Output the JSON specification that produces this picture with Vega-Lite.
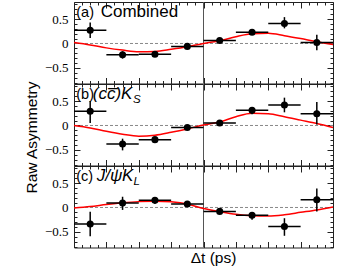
{
  "$schema": "https://vega.github.io/schema/vega-lite/v6.json",
  "padding": {"left": 23, "top": 1, "right": 5, "bottom": 5},
  "background": "white",
  "spacing": 0,
  "bounds": "flush",
  "config": {
    "view": {"stroke": "#222", "strokeWidth": 1},
    "axis": {"domain": false, "grid": false, "tickColor": "#222", "tickWidth": 1, "labelFont": "Liberation Serif", "labelFontSize": 13, "labelColor": "black", "titleFont": "Liberation Sans", "titleFontSize": 15.5, "titleFontWeight": "normal", "titleColor": "black"},
    "text": {"font": "Liberation Sans", "fontSize": 16, "color": "black"}
  },
  "datasets": {
    "one": [{}],
    "pts": [
      {"p": "a", "x": -3.5, "y": 0.27, "xlo": -4, "xhi": -3, "ylo": 0.11, "yhi": 0.43},
      {"p": "a", "x": -2.5, "y": -0.23, "xlo": -3, "xhi": -2, "ylo": -0.31, "yhi": -0.16},
      {"p": "a", "x": -1.5, "y": -0.22, "xlo": -2, "xhi": -1, "ylo": -0.26, "yhi": -0.18},
      {"p": "a", "x": -0.5, "y": -0.06, "xlo": -1, "xhi": 0, "ylo": -0.09, "yhi": -0.03},
      {"p": "a", "x": 0.5, "y": 0.06, "xlo": 0, "xhi": 1, "ylo": 0.03, "yhi": 0.09},
      {"p": "a", "x": 1.5, "y": 0.23, "xlo": 1, "xhi": 2, "ylo": 0.2, "yhi": 0.27},
      {"p": "a", "x": 2.5, "y": 0.41, "xlo": 2, "xhi": 3, "ylo": 0.31, "yhi": 0.54},
      {"p": "a", "x": 3.5, "y": 0.02, "xlo": 3, "xhi": 4, "ylo": -0.14, "yhi": 0.18},
      {"p": "b", "x": -3.5, "y": 0.29, "xlo": -4, "xhi": -3, "ylo": 0.05, "yhi": 0.5},
      {"p": "b", "x": -2.5, "y": -0.38, "xlo": -3, "xhi": -2, "ylo": -0.51, "yhi": -0.27},
      {"p": "b", "x": -1.5, "y": -0.29, "xlo": -2, "xhi": -1, "ylo": -0.35, "yhi": -0.24},
      {"p": "b", "x": -0.5, "y": -0.04, "xlo": -1, "xhi": 0, "ylo": -0.07, "yhi": -0.01},
      {"p": "b", "x": 0.5, "y": 0.05, "xlo": 0, "xhi": 1, "ylo": 0.02, "yhi": 0.08},
      {"p": "b", "x": 1.5, "y": 0.31, "xlo": 1, "xhi": 2, "ylo": 0.23, "yhi": 0.38},
      {"p": "b", "x": 2.5, "y": 0.42, "xlo": 2, "xhi": 3, "ylo": 0.27, "yhi": 0.57},
      {"p": "b", "x": 3.5, "y": 0.24, "xlo": 3, "xhi": 4, "ylo": 0.02, "yhi": 0.48},
      {"p": "c", "x": -3.5, "y": -0.34, "xlo": -4, "xhi": -3, "ylo": -0.59, "yhi": -0.09},
      {"p": "c", "x": -2.5, "y": 0.09, "xlo": -3, "xhi": -2, "ylo": -0.05, "yhi": 0.22},
      {"p": "c", "x": -1.5, "y": 0.15, "xlo": -2, "xhi": -1, "ylo": 0.07, "yhi": 0.21},
      {"p": "c", "x": -0.5, "y": 0.07, "xlo": -1, "xhi": 0, "ylo": 0.04, "yhi": 0.1},
      {"p": "c", "x": 0.5, "y": -0.08, "xlo": 0, "xhi": 1, "ylo": -0.11, "yhi": -0.05},
      {"p": "c", "x": 1.5, "y": -0.16, "xlo": 1, "xhi": 2, "ylo": -0.25, "yhi": -0.1},
      {"p": "c", "x": 2.5, "y": -0.39, "xlo": 2, "xhi": 3, "ylo": -0.58, "yhi": -0.22},
      {"p": "c", "x": 3.5, "y": 0.16, "xlo": 3, "xhi": 4, "ylo": -0.08, "yhi": 0.39}
    ],
    "curve": [
      {"p": "a", "x": -4, "y": 0.02}, {"p": "a", "x": -3.5, "y": -0.03}, {"p": "a", "x": -3, "y": -0.09}, {"p": "a", "x": -2.5, "y": -0.136}, {"p": "a", "x": -2, "y": -0.17}, {"p": "a", "x": -1.5, "y": -0.163}, {"p": "a", "x": -1, "y": -0.12}, {"p": "a", "x": -0.5, "y": -0.068}, {"p": "a", "x": 0, "y": 0.0}, {"p": "a", "x": 0.5, "y": 0.055}, {"p": "a", "x": 1, "y": 0.14}, {"p": "a", "x": 1.5, "y": 0.2}, {"p": "a", "x": 2, "y": 0.21}, {"p": "a", "x": 2.5, "y": 0.16}, {"p": "a", "x": 3, "y": 0.1}, {"p": "a", "x": 3.5, "y": 0.035}, {"p": "a", "x": 4, "y": -0.02},
      {"p": "b", "x": -4, "y": 0.0}, {"p": "b", "x": -3.5, "y": -0.05}, {"p": "b", "x": -3, "y": -0.12}, {"p": "b", "x": -2.5, "y": -0.18}, {"p": "b", "x": -2, "y": -0.22}, {"p": "b", "x": -1.5, "y": -0.2}, {"p": "b", "x": -1, "y": -0.14}, {"p": "b", "x": -0.5, "y": -0.07}, {"p": "b", "x": 0, "y": 0.01}, {"p": "b", "x": 0.5, "y": 0.07}, {"p": "b", "x": 1, "y": 0.18}, {"p": "b", "x": 1.5, "y": 0.25}, {"p": "b", "x": 2, "y": 0.24}, {"p": "b", "x": 2.5, "y": 0.18}, {"p": "b", "x": 3, "y": 0.11}, {"p": "b", "x": 3.5, "y": 0.04}, {"p": "b", "x": 4, "y": -0.04},
      {"p": "c", "x": -4, "y": -0.01}, {"p": "c", "x": -3.5, "y": 0.02}, {"p": "c", "x": -3, "y": 0.06}, {"p": "c", "x": -2.5, "y": 0.095}, {"p": "c", "x": -2, "y": 0.12}, {"p": "c", "x": -1.5, "y": 0.13}, {"p": "c", "x": -1, "y": 0.115}, {"p": "c", "x": -0.5, "y": 0.07}, {"p": "c", "x": 0, "y": -0.02}, {"p": "c", "x": 0.5, "y": -0.085}, {"p": "c", "x": 1, "y": -0.14}, {"p": "c", "x": 1.5, "y": -0.17}, {"p": "c", "x": 2, "y": -0.177}, {"p": "c", "x": 2.5, "y": -0.15}, {"p": "c", "x": 3, "y": -0.1}, {"p": "c", "x": 3.5, "y": -0.05}, {"p": "c", "x": 4, "y": 0.01}
    ]
  },
  "vconcat": [
    {
      "width": 259, "height": 81.5,
      "resolve": {"axis": {"x": "independent", "y": "independent"}},
      "layer": [
        {"data": {"name": "one"}, "mark": {"type": "rule", "color": "#888", "strokeDash": [3, 2], "strokeWidth": 1},
         "encoding": {"y": {"datum": 0, "type": "quantitative", "scale": {"domain": [-0.82, 0.85], "nice": false, "zero": false}, "axis": {"orient": "right", "values": [-0.8,-0.7,-0.6,-0.4,-0.3,-0.2,-0.1,0.1,0.2,0.3,0.4,0.6,0.7,0.8], "labels": false, "tickSize": -3, "title": null}}}},
        {"data": {"name": "one"}, "mark": {"type": "rule", "color": "#555", "strokeWidth": 1},
         "encoding": {"x": {"datum": 0, "type": "quantitative", "scale": {"domain": [-4, 4], "nice": false, "zero": false}, "axis": {"orient": "top", "values": [-3.75,-3.5,-3.25,-2.75,-2.5,-2.25,-1.75,-1.5,-1.25,-0.75,-0.5,-0.25,0.25,0.5,0.75,1.25,1.5,1.75,2.25,2.5,2.75,3.25,3.5,3.75], "labels": false, "tickSize": -3, "title": null}}}},
        {"data": {"name": "curve"}, "transform": [{"filter": "datum.p == 'a'"}],
         "mark": {"type": "line", "color": "#ff0000", "strokeWidth": 1.5, "interpolate": "monotone"},
         "encoding": {"x": {"field": "x", "type": "quantitative", "scale": {"domain": [-4, 4], "nice": false, "zero": false}, "axis": {"orient": "bottom", "values": [-3.75,-3.5,-3.25,-2.75,-2.5,-2.25,-1.75,-1.5,-1.25,-0.75,-0.5,-0.25,0.25,0.5,0.75,1.25,1.5,1.75,2.25,2.5,2.75,3.25,3.5,3.75], "labels": false, "tickSize": -3, "title": null}},
                      "y": {"field": "y", "type": "quantitative", "scale": {"domain": [-0.82, 0.85], "nice": false, "zero": false}, "axis": {"orient": "left", "values": [-0.8,-0.7,-0.6,-0.4,-0.3,-0.2,-0.1,0.1,0.2,0.3,0.4,0.6,0.7,0.8], "labels": false, "tickSize": -3, "title": null}}}},
        {"data": {"name": "pts"}, "transform": [{"filter": "datum.p == 'a'"}],
         "mark": {"type": "rule", "color": "black", "strokeWidth": 1.5},
         "encoding": {"x": {"field": "xlo", "type": "quantitative", "scale": {"domain": [-4, 4], "nice": false, "zero": false}, "axis": {"orient": "bottom", "values": [-4,-3,-2,-1,0,1,2,3,4], "labels": false, "tickSize": -6, "title": null}},
                      "x2": {"field": "xhi"},
                      "y": {"field": "y", "type": "quantitative", "scale": {"domain": [-0.82, 0.85], "nice": false, "zero": false}, "axis": {"orient": "left", "values": [-0.5, 0, 0.5], "tickSize": -6, "labelPadding": 12, "labelExpr": "datum.value == 0 ? '0' : format(datum.value, '.1f')", "title": null}}}},
        {"data": {"name": "pts"}, "transform": [{"filter": "datum.p == 'a'"}],
         "mark": {"type": "rule", "color": "black", "strokeWidth": 1.5},
         "encoding": {"x": {"field": "x", "type": "quantitative", "scale": {"domain": [-4, 4], "nice": false, "zero": false}, "axis": {"orient": "top", "values": [-4,-3,-2,-1,0,1,2,3,4], "labels": false, "tickSize": -6, "title": null}},
                      "y": {"field": "ylo", "type": "quantitative", "scale": {"domain": [-0.82, 0.85], "nice": false, "zero": false}, "axis": {"orient": "right", "values": [-0.5, 0, 0.5], "labels": false, "tickSize": -6, "title": null}},
                      "y2": {"field": "yhi"}}},
        {"data": {"name": "pts"}, "transform": [{"filter": "datum.p == 'a'"}],
         "mark": {"type": "circle", "color": "black", "opacity": 1, "size": 50},
         "encoding": {"x": {"field": "x", "type": "quantitative", "scale": {"domain": [-4, 4], "nice": false, "zero": false}, "axis": null},
                      "y": {"field": "y", "type": "quantitative", "scale": {"domain": [-0.82, 0.85], "nice": false, "zero": false}, "axis": null}}},
        {"data": {"name": "one"}, "mark": {"type": "text", "align": "left", "baseline": "alphabetic", "fontSize": 14.5, "text": "(a)"},
         "encoding": {"x": {"datum": -3.93, "type": "quantitative", "axis": null}, "y": {"datum": 0.55, "type": "quantitative", "axis": null}}},
        {"data": {"name": "one"}, "mark": {"type": "text", "align": "left", "baseline": "alphabetic", "fontSize": 17, "text": "Combined"},
         "encoding": {"x": {"datum": -3.175, "type": "quantitative", "axis": null}, "y": {"datum": 0.55, "type": "quantitative", "axis": null}}}
      ]
    },
    {
      "width": 259, "height": 81.5,
      "resolve": {"axis": {"x": "independent", "y": "independent"}},
      "layer": [
        {"data": {"name": "one"}, "mark": {"type": "rule", "color": "#888", "strokeDash": [3, 2], "strokeWidth": 1},
         "encoding": {"y": {"datum": 0, "type": "quantitative", "scale": {"domain": [-0.82, 0.85], "nice": false, "zero": false}, "axis": {"orient": "right", "values": [-0.8,-0.7,-0.6,-0.4,-0.3,-0.2,-0.1,0.1,0.2,0.3,0.4,0.6,0.7,0.8], "labels": false, "tickSize": -3, "title": null}}}},
        {"data": {"name": "one"}, "mark": {"type": "rule", "color": "#555", "strokeWidth": 1},
         "encoding": {"x": {"datum": 0, "type": "quantitative", "scale": {"domain": [-4, 4], "nice": false, "zero": false}, "axis": {"orient": "top", "values": [-3.75,-3.5,-3.25,-2.75,-2.5,-2.25,-1.75,-1.5,-1.25,-0.75,-0.5,-0.25,0.25,0.5,0.75,1.25,1.5,1.75,2.25,2.5,2.75,3.25,3.5,3.75], "labels": false, "tickSize": -3, "title": null}}}},
        {"data": {"name": "curve"}, "transform": [{"filter": "datum.p == 'b'"}],
         "mark": {"type": "line", "color": "#ff0000", "strokeWidth": 1.5, "interpolate": "monotone"},
         "encoding": {"x": {"field": "x", "type": "quantitative", "scale": {"domain": [-4, 4], "nice": false, "zero": false}, "axis": {"orient": "bottom", "values": [-3.75,-3.5,-3.25,-2.75,-2.5,-2.25,-1.75,-1.5,-1.25,-0.75,-0.5,-0.25,0.25,0.5,0.75,1.25,1.5,1.75,2.25,2.5,2.75,3.25,3.5,3.75], "labels": false, "tickSize": -3, "title": null}},
                      "y": {"field": "y", "type": "quantitative", "scale": {"domain": [-0.82, 0.85], "nice": false, "zero": false}, "axis": {"orient": "left", "values": [-0.8,-0.7,-0.6,-0.4,-0.3,-0.2,-0.1,0.1,0.2,0.3,0.4,0.6,0.7,0.8], "labels": false, "tickSize": -3, "title": null}}}},
        {"data": {"name": "pts"}, "transform": [{"filter": "datum.p == 'b'"}],
         "mark": {"type": "rule", "color": "black", "strokeWidth": 1.5},
         "encoding": {"x": {"field": "xlo", "type": "quantitative", "scale": {"domain": [-4, 4], "nice": false, "zero": false}, "axis": {"orient": "bottom", "values": [-4,-3,-2,-1,0,1,2,3,4], "labels": false, "tickSize": -6, "title": null}},
                      "x2": {"field": "xhi"},
                      "y": {"field": "y", "type": "quantitative", "scale": {"domain": [-0.82, 0.85], "nice": false, "zero": false}, "axis": {"orient": "left", "values": [-0.5, 0, 0.5], "tickSize": -6, "labelPadding": 12, "labelExpr": "datum.value == 0 ? '0' : format(datum.value, '.1f')", "title": "Raw Asymmetry", "titlePadding": 5, "titleY": 53}}}},
        {"data": {"name": "pts"}, "transform": [{"filter": "datum.p == 'b'"}],
         "mark": {"type": "rule", "color": "black", "strokeWidth": 1.5},
         "encoding": {"x": {"field": "x", "type": "quantitative", "scale": {"domain": [-4, 4], "nice": false, "zero": false}, "axis": {"orient": "top", "values": [-4,-3,-2,-1,0,1,2,3,4], "labels": false, "tickSize": -6, "title": null}},
                      "y": {"field": "ylo", "type": "quantitative", "scale": {"domain": [-0.82, 0.85], "nice": false, "zero": false}, "axis": {"orient": "right", "values": [-0.5, 0, 0.5], "labels": false, "tickSize": -6, "title": null}},
                      "y2": {"field": "yhi"}}},
        {"data": {"name": "pts"}, "transform": [{"filter": "datum.p == 'b'"}],
         "mark": {"type": "circle", "color": "black", "opacity": 1, "size": 50},
         "encoding": {"x": {"field": "x", "type": "quantitative", "scale": {"domain": [-4, 4], "nice": false, "zero": false}, "axis": null},
                      "y": {"field": "y", "type": "quantitative", "scale": {"domain": [-0.82, 0.85], "nice": false, "zero": false}, "axis": null}}},
        {"data": {"name": "one"}, "mark": {"type": "text", "align": "left", "baseline": "alphabetic", "fontSize": 14.5, "text": "(b)"},
         "encoding": {"x": {"datum": -3.93, "type": "quantitative", "axis": null}, "y": {"datum": 0.55, "type": "quantitative", "axis": null}}},
        {"data": {"name": "one"}, "mark": {"type": "text", "align": "left", "baseline": "alphabetic", "fontStyle": "italic", "fontSize": 17, "text": "(cc\u0305)"},
         "encoding": {"x": {"datum": -3.42, "type": "quantitative", "axis": null}, "y": {"datum": 0.55, "type": "quantitative", "axis": null}}},
        {"data": {"name": "one"}, "mark": {"type": "text", "align": "left", "baseline": "alphabetic", "fontStyle": "italic", "fontSize": 17, "text": "K"},
         "encoding": {"x": {"datum": -2.55, "type": "quantitative", "axis": null}, "y": {"datum": 0.55, "type": "quantitative", "axis": null}}},
        {"data": {"name": "one"}, "mark": {"type": "text", "align": "left", "baseline": "alphabetic", "fontStyle": "italic", "fontSize": 11.5, "text": "S"},
         "encoding": {"x": {"datum": -2.18, "type": "quantitative", "axis": null}, "y": {"datum": 0.46, "type": "quantitative", "axis": null}}}
      ]
    },
    {
      "width": 259, "height": 81.5,
      "resolve": {"axis": {"x": "independent", "y": "independent"}},
      "layer": [
        {"data": {"name": "one"}, "mark": {"type": "rule", "color": "#888", "strokeDash": [3, 2], "strokeWidth": 1},
         "encoding": {"y": {"datum": 0, "type": "quantitative", "scale": {"domain": [-0.82, 0.85], "nice": false, "zero": false}, "axis": {"orient": "right", "values": [-0.8,-0.7,-0.6,-0.4,-0.3,-0.2,-0.1,0.1,0.2,0.3,0.4,0.6,0.7,0.8], "labels": false, "tickSize": -3, "title": null}}}},
        {"data": {"name": "one"}, "mark": {"type": "rule", "color": "#555", "strokeWidth": 1},
         "encoding": {"x": {"datum": 0, "type": "quantitative", "scale": {"domain": [-4, 4], "nice": false, "zero": false}, "axis": {"orient": "top", "values": [-3.75,-3.5,-3.25,-2.75,-2.5,-2.25,-1.75,-1.5,-1.25,-0.75,-0.5,-0.25,0.25,0.5,0.75,1.25,1.5,1.75,2.25,2.5,2.75,3.25,3.5,3.75], "labels": false, "tickSize": -3, "title": null}}}},
        {"data": {"name": "curve"}, "transform": [{"filter": "datum.p == 'c'"}],
         "mark": {"type": "line", "color": "#ff0000", "strokeWidth": 1.5, "interpolate": "monotone"},
         "encoding": {"x": {"field": "x", "type": "quantitative", "scale": {"domain": [-4, 4], "nice": false, "zero": false}, "axis": {"orient": "bottom", "values": [-3.75,-3.5,-3.25,-2.75,-2.5,-2.25,-1.75,-1.5,-1.25,-0.75,-0.5,-0.25,0.25,0.5,0.75,1.25,1.5,1.75,2.25,2.5,2.75,3.25,3.5,3.75], "labels": false, "tickSize": -3, "title": null}},
                      "y": {"field": "y", "type": "quantitative", "scale": {"domain": [-0.82, 0.85], "nice": false, "zero": false}, "axis": {"orient": "left", "values": [-0.8,-0.7,-0.6,-0.4,-0.3,-0.2,-0.1,0.1,0.2,0.3,0.4,0.6,0.7,0.8], "labels": false, "tickSize": -3, "title": null}}}},
        {"data": {"name": "pts"}, "transform": [{"filter": "datum.p == 'c'"}],
         "mark": {"type": "rule", "color": "black", "strokeWidth": 1.5},
         "encoding": {"x": {"field": "xlo", "type": "quantitative", "scale": {"domain": [-4, 4], "nice": false, "zero": false}, "axis": {"orient": "bottom", "values": [-4,-3,-2,-1,0,1,2,3,4], "labels": false, "tickSize": -6, "title": "\u0394t (ps)", "titlePadding": 2, "titleX": 139}},
                      "x2": {"field": "xhi"},
                      "y": {"field": "y", "type": "quantitative", "scale": {"domain": [-0.82, 0.85], "nice": false, "zero": false}, "axis": {"orient": "left", "values": [-0.5, 0, 0.5], "tickSize": -6, "labelPadding": 12, "labelExpr": "datum.value == 0 ? '0' : format(datum.value, '.1f')", "title": null}}}},
        {"data": {"name": "pts"}, "transform": [{"filter": "datum.p == 'c'"}],
         "mark": {"type": "rule", "color": "black", "strokeWidth": 1.5},
         "encoding": {"x": {"field": "x", "type": "quantitative", "scale": {"domain": [-4, 4], "nice": false, "zero": false}, "axis": {"orient": "top", "values": [-4,-3,-2,-1,0,1,2,3,4], "labels": false, "tickSize": -6, "title": null}},
                      "y": {"field": "ylo", "type": "quantitative", "scale": {"domain": [-0.82, 0.85], "nice": false, "zero": false}, "axis": {"orient": "right", "values": [-0.5, 0, 0.5], "labels": false, "tickSize": -6, "title": null}},
                      "y2": {"field": "yhi"}}},
        {"data": {"name": "pts"}, "transform": [{"filter": "datum.p == 'c'"}],
         "mark": {"type": "circle", "color": "black", "opacity": 1, "size": 50},
         "encoding": {"x": {"field": "x", "type": "quantitative", "scale": {"domain": [-4, 4], "nice": false, "zero": false}, "axis": null},
                      "y": {"field": "y", "type": "quantitative", "scale": {"domain": [-0.82, 0.85], "nice": false, "zero": false}, "axis": null}}},
        {"data": {"name": "one"}, "mark": {"type": "text", "align": "left", "baseline": "alphabetic", "fontSize": 14.5, "text": "(c)"},
         "encoding": {"x": {"datum": -3.93, "type": "quantitative", "axis": null}, "y": {"datum": 0.55, "type": "quantitative", "axis": null}}},
        {"data": {"name": "one"}, "mark": {"type": "text", "align": "left", "baseline": "alphabetic", "fontStyle": "italic", "fontSize": 17, "text": "J/\u03c8"},
         "encoding": {"x": {"datum": -3.3, "type": "quantitative", "axis": null}, "y": {"datum": 0.55, "type": "quantitative", "axis": null}}},
        {"data": {"name": "one"}, "mark": {"type": "text", "align": "left", "baseline": "alphabetic", "fontStyle": "italic", "fontSize": 17, "text": "K"},
         "encoding": {"x": {"datum": -2.52, "type": "quantitative", "axis": null}, "y": {"datum": 0.55, "type": "quantitative", "axis": null}}},
        {"data": {"name": "one"}, "mark": {"type": "text", "align": "left", "baseline": "alphabetic", "fontStyle": "italic", "fontSize": 11.5, "text": "L"},
         "encoding": {"x": {"datum": -2.16, "type": "quantitative", "axis": null}, "y": {"datum": 0.46, "type": "quantitative", "axis": null}}}
      ]
    }
  ]
}
